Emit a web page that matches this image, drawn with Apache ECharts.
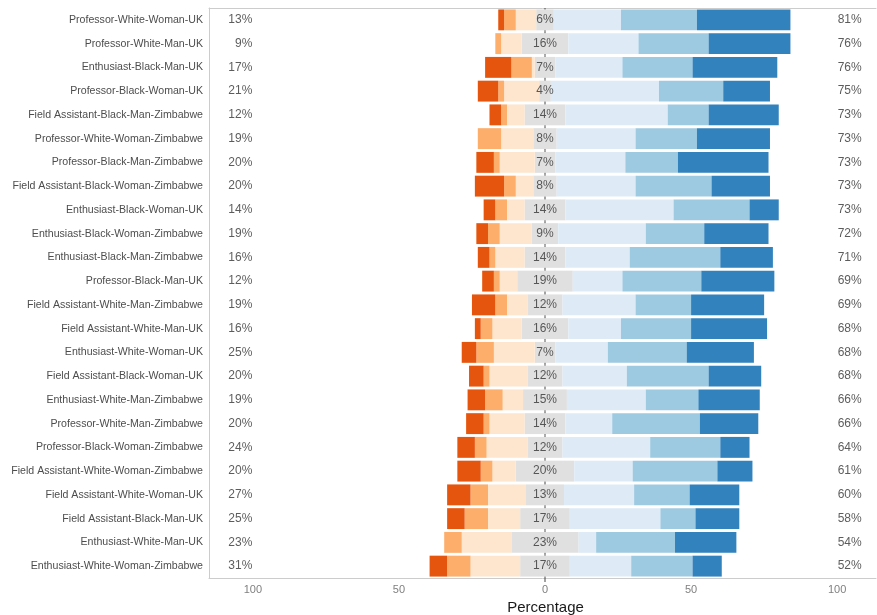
<!DOCTYPE html>
<html>
<head>
<meta charset="utf-8">
<script src="https://cdn.jsdelivr.net/npm/echarts@6/dist/echarts.min.js"></script>
<style>
html,body{margin:0;padding:0;background:#fff;}
#chart{width:877px;height:615px;}
</style>
</head>
<body>
<div id="chart"></div>
<script>
var categories = [
  "Professor-White-Woman-UK","Professor-White-Man-UK","Enthusiast-Black-Man-UK","Professor-Black-Woman-UK",
  "Field Assistant-Black-Man-Zimbabwe","Professor-White-Woman-Zimbabwe","Professor-Black-Man-Zimbabwe",
  "Field Assistant-Black-Woman-Zimbabwe","Enthusiast-Black-Woman-UK","Enthusiast-Black-Woman-Zimbabwe",
  "Enthusiast-Black-Man-Zimbabwe","Professor-Black-Man-UK","Field Assistant-White-Man-Zimbabwe",
  "Field Assistant-White-Man-UK","Enthusiast-White-Woman-UK","Field Assistant-Black-Woman-UK",
  "Enthusiast-White-Man-Zimbabwe","Professor-White-Man-Zimbabwe","Professor-Black-Woman-Zimbabwe",
  "Field Assistant-White-Woman-Zimbabwe","Field Assistant-White-Woman-UK","Field Assistant-Black-Man-UK",
  "Enthusiast-White-Man-UK","Enthusiast-White-Woman-Zimbabwe"
];
var stronglyDisagree = [2,0,9,7,4,0,6,10,4,4,4,4,8,2,5,5,6,6,6,8,8,6,0,6];
var disagree         = [4,2,7,2,2,8,2,4,4,4,2,2,4,4,6,2,6,2,4,4,6,8,6,8];
var somewhatDisagree = [7,7,1,12,6,11,12,6,6,11,10,6,7,10,14,13,7,12,14,8,13,11,17,17];
var neutral          = [6,16,7,4,14,8,7,8,14,9,14,19,12,16,7,12,15,14,12,20,13,17,23,17];
var somewhatAgree    = [23,24,23,37,35,27,24,27,37,30,22,17,25,18,18,22,27,16,30,20,24,31,6,21];
var agree            = [26,24,24,22,14,21,18,26,26,20,31,27,19,24,27,28,18,30,24,29,19,12,27,21];
var stronglyAgree    = [32,28,29,16,24,25,31,20,10,22,18,25,25,26,23,18,21,20,10,12,17,15,21,10];
var lowPct  = [13,9,17,21,12,19,20,20,14,19,16,12,19,16,25,20,19,20,24,20,27,25,23,31];
var highPct = [81,76,76,75,73,73,73,73,73,72,71,69,69,68,68,68,66,66,64,61,60,58,54,52];
var xTicks = [-100,-50,0,50,100];

var FONT = "'Liberation Sans', Arial, Helvetica, sans-serif";
var BAR_FRAC = 0.88;
var chart = echarts.init(document.getElementById('chart'), null, {renderer:'canvas'});

function neg(a){ return a.map(function(v){ return -v; }); }
function half(a, s){ return a.map(function(v){ return s*v/2; }); }

function barSeries(name, data, color){
  return {
    name: name, type: 'bar', stack: 'total', data: data, z: 3,
    barWidth: (BAR_FRAC * 100) + '%',
    itemStyle: {color: color},
    emphasis: {disabled: true},
    silent: true
  };
}
function labelSeries(xv, texts, pos){
  return {
    type: 'scatter', z: 5, silent: true,
    symbolSize: 1,
    itemStyle: {color: 'rgba(0,0,0,0)'},
    data: categories.map(function(c, i){ return [xv, i]; }),
    label: {
      show: true, position: pos, distance: 0,
      fontFamily: FONT, fontSize: 12, color: '#333333',
      formatter: function(p){ return texts[p.dataIndex] + '%'; }
    }
  };
}

var GRID_LEFT = 209, GRID_W = 667, ZERO_PX = 545;
var XMIN = -115;
var XMAX = GRID_W * (-XMIN) / (ZERO_PX - GRID_LEFT) + XMIN;
var option = {
  animation: false,
  backgroundColor: '#ffffff',
  grid: {left: GRID_LEFT, top: 8, width: GRID_W, height: 570, show: false,
         containLabel: false, outerBoundsMode: 'none'},
  xAxis: [{
    type: 'value', min: XMIN, max: XMAX,
    axisLine: {show: true, onZero: false, lineStyle: {color: '#cccccc', width: 1}},
    axisTick: {show: false}, splitLine: {show: false},
    axisLabel: {
      customValues: xTicks,
      fontFamily: FONT, fontSize: 11, color: '#808080', margin: 6,
      formatter: function(v){ return String(Math.abs(v)); }
    },
    name: 'Percentage', nameLocation: 'middle', nameGap: 14,
    nameTextStyle: {fontFamily: FONT, fontSize: 15, color: '#1a1a1a', padding: [0, 0, 0, 6]}
  }, {
    type: 'value', min: XMIN, max: XMAX, position: 'top',
    axisLine: {show: true, onZero: false, lineStyle: {color: '#cccccc', width: 1}},
    axisTick: {show: false}, splitLine: {show: false}, axisLabel: {show: false}
  }],
  yAxis: {
    type: 'category', data: categories, inverse: true,
    axisLine: {show: true, onZero: false, lineStyle: {color: '#cccccc', width: 1}},
    axisTick: {show: false}, splitLine: {show: false},
    axisLabel: {fontFamily: FONT, fontSize: 10.6, color: '#4d4d4d', margin: 6}
  },
  series: [
    {
      // zero reference line, visible in the gaps between bars
      type: 'custom', z: 4, silent: true,
      data: categories.map(function(c, i){ return [0, i]; }),
      renderItem: function(params, api){
        var i = api.value(1);
        var n = categories.length;
        var band = api.size([0, 1])[1];
        var p = api.coord([api.value(0), i]);
        var halfBar = band * BAR_FRAC / 2;
        var extra = (i === n - 1) ? 4 : 0;
        return {
          type: 'group',
          children: [
            {type: 'line', shape: {x1: p[0], y1: p[1] - band / 2, x2: p[0], y2: p[1] - halfBar},
             style: {stroke: '#444444', lineWidth: 1}},
            {type: 'line', shape: {x1: p[0], y1: p[1] + halfBar, x2: p[0], y2: p[1] + band / 2 + extra},
             style: {stroke: '#444444', lineWidth: 1}}
          ]
        };
      }
    },
    barSeries('neutralL', half(neutral, -1), '#e0e0e0'),
    barSeries('somewhatDisagree', neg(somewhatDisagree), '#fee6ce'),
    barSeries('disagree', neg(disagree), '#fdae6b'),
    barSeries('stronglyDisagree', neg(stronglyDisagree), '#e6550d'),
    barSeries('neutralR', half(neutral, 1), '#e0e0e0'),
    barSeries('somewhatAgree', somewhatAgree, '#deebf7'),
    barSeries('agree', agree, '#9ecae1'),
    barSeries('stronglyAgree', stronglyAgree, '#3182bd'),
    labelSeries(0, neutral, 'inside'),
    labelSeries(-100, lowPct, 'left'),
    labelSeries(100, highPct, 'right')
  ]
};
chart.setOption(option);
</script>
</body>
</html>
